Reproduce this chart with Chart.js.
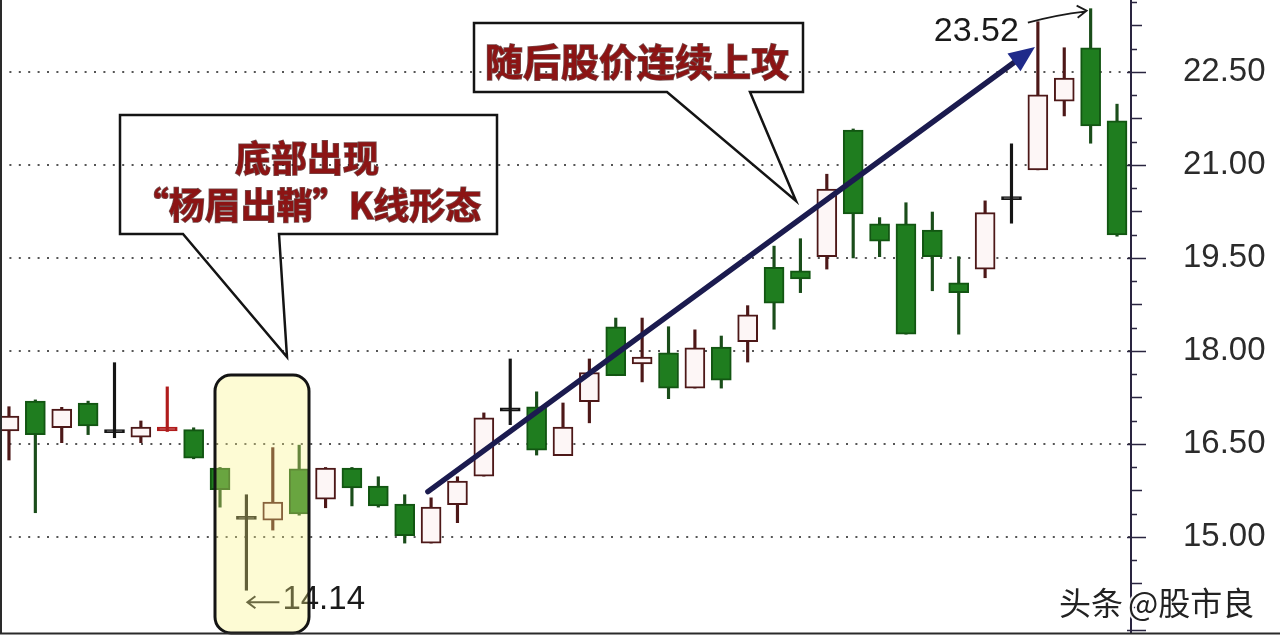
<!DOCTYPE html>
<html>
<head>
<meta charset="utf-8">
<script src="https://cdn.jsdelivr.net/npm/chart.js@4.4.1/dist/chart.umd.min.js"></script>
<style>
html, body { margin: 0; padding: 0; background: #fff; }
canvas { display: block; }
</style>
</head>
<body>
<canvas id="kline" width="1280" height="638"></canvas>
<script>
// daily candles (index 0 is the half-cut one on the left)
const openP  = [16.71, 17.19, 16.76, 17.16, 16.70, 16.61, 16.71, 16.73, 16.11, 15.30,
                15.27, 16.10, 15.61, 16.11, 15.82, 15.53, 14.90, 15.52, 15.98, 17.05,
                17.10, 16.31, 17.18, 18.39, 17.79, 17.97, 17.40, 18.06, 18.15, 19.35,
                19.29, 19.52, 21.56, 20.05, 20.05, 19.95, 19.10, 19.32, 20.46, 20.92,
                22.03, 22.89, 21.71];
const closeP = [16.95, 16.65, 17.06, 16.79, 16.71, 16.77, 16.77, 16.27, 15.76, 15.31,
                15.56, 15.37, 16.11, 15.79, 15.50, 15.02, 15.48, 15.90, 16.92, 17.06,
                16.40, 16.77, 17.65, 17.60, 17.90, 17.40, 18.05, 17.53, 18.58, 18.77,
                19.16, 20.61, 20.21, 19.77, 18.27, 19.52, 18.94, 20.23, 20.47, 22.13,
                22.40, 21.63, 19.87];
const highP  = [17.10, 17.21, 17.09, 17.19, 17.81, 16.87, 17.42, 16.76, 16.12, 15.68,
                16.44, 16.48, 16.12, 16.12, 15.97, 15.68, 15.63, 15.97, 17.00, 17.87,
                17.34, 17.16, 17.87, 18.53, 18.53, 18.39, 18.34, 18.24, 18.73, 19.69,
                19.81, 20.85, 21.58, 20.15, 20.39, 20.24, 19.52, 20.42, 21.34, 23.31,
                22.89, 23.52, 21.98];
const lowP   = [16.24, 15.39, 16.52, 16.65, 16.60, 16.52, 16.70, 16.26, 15.48, 14.14,
                15.11, 15.35, 15.47, 15.50, 15.48, 14.90, 14.90, 15.23, 15.98, 16.81,
                16.32, 16.31, 16.84, 17.60, 17.50, 17.23, 17.40, 17.40, 17.82, 18.35,
                18.94, 19.32, 19.50, 19.52, 18.27, 18.97, 18.27, 19.18, 20.06, 20.92,
                21.79, 21.35, 19.85];
const yTicks = [15.00, 16.50, 18.00, 19.50, 21.00, 22.50];
const lowMark = 9;     // candle of the 14.14 low
const highMark = 41;   // candle of the 23.52 high

function kind(i) {
    const d = closeP[i] - openP[i];
    if (Math.abs(d) <= 0.02) return 'doji';
    if (d > 0 && d < 0.08) return 'red';
    return d > 0 ? 'up' : 'down';
}

const bodies = openP.map((o, i) => {
    const c = closeP[i];
    if (kind(i) === 'doji') {
        const m = (o + c) / 2;
        return { x: i, y: [m - 0.025, m + 0.025] };
    }
    return { x: i, y: [Math.min(o, c), Math.max(o, c)] };
});
const wicks = highP.map((h, i) => ({ x: i, y: [lowP[i], h] }));

const bodyFill   = { up: '#fdf6f6', down: '#1f7d1f', doji: '#151515', red: '#b01c1c' };
const bodyBorder = { up: '#4d1818', down: '#125612', doji: '#151515', red: '#b01c1c' };
const wickColor  = { up: '#4d1818', down: '#1a4d1a', doji: '#151515', red: '#b01c1c' };

function callout(ctx, l, t, r, b, p1, p2, tx, ty) {
    ctx.beginPath();
    ctx.moveTo(p1, b);
    ctx.lineTo(l, b);
    ctx.lineTo(l, t);
    ctx.lineTo(r, t);
    ctx.lineTo(r, b);
    ctx.lineTo(p2, b);
    ctx.lineTo(tx, ty);
    ctx.closePath();
    ctx.stroke();
}

function redText(ctx, txt, cx, cy, size) {
    ctx.font = 'bold ' + size + 'px "Noto Sans CJK SC"';
    ctx.textAlign = 'center';
    ctx.textBaseline = 'middle';
    ctx.lineWidth = 1.5;
    ctx.strokeStyle = 'rgba(55,0,0,0.7)';
    ctx.strokeText(txt, cx, cy);
    ctx.fillStyle = '#8c1414';
    ctx.fillText(txt, cx, cy);
}

const notes = {
    id: 'notes',
    afterDatasetsDraw(chart) {
        const { ctx, scales: { x, y } } = chart;
        ctx.save();

        // ←14.14 under the long lower shadow
        const lx = x.getPixelForValue(lowMark), ly = y.getPixelForValue(lowP[lowMark]) + 12;
        ctx.strokeStyle = '#222';
        ctx.lineWidth = 2;
        ctx.beginPath();
        ctx.moveTo(lx + 33, ly); ctx.lineTo(lx + 1, ly);
        ctx.moveTo(lx + 9, ly - 6); ctx.lineTo(lx + 1, ly); ctx.lineTo(lx + 9, ly + 6);
        ctx.stroke();
        ctx.fillStyle = '#1a1a1a';
        ctx.font = '33px "Liberation Sans"';
        ctx.textAlign = 'left';
        ctx.textBaseline = 'middle';
        ctx.fillText(lowP[lowMark].toFixed(2), lx + 36, ly - 2);

        // yellow highlight box
        ctx.beginPath();
        ctx.roundRect(215, 375, 94, 258, 16);
        ctx.fillStyle = 'rgba(250,242,130,0.34)';
        ctx.fill();
        ctx.lineWidth = 3;
        ctx.strokeStyle = '#141414';
        ctx.stroke();

        // trend arrow
        const x0 = x.getPixelForValue(15.88), y0 = y.getPixelForValue(15.73);
        const x1 = x.getPixelForValue(38.89), y1 = y.getPixelForValue(22.90);
        const ang = Math.atan2(y1 - y0, x1 - x0);
        const hl = 26, hw = 11;
        const bx = x1 - hl * Math.cos(ang), by = y1 - hl * Math.sin(ang);
        ctx.strokeStyle = '#1b1b4f';
        ctx.lineWidth = 5.5;
        ctx.lineCap = 'round';
        ctx.beginPath();
        ctx.moveTo(x0, y0); ctx.lineTo(bx, by);
        ctx.stroke();
        ctx.fillStyle = '#1f2a8a';
        ctx.beginPath();
        ctx.moveTo(x1, y1);
        ctx.lineTo(bx + hw * Math.sin(ang), by - hw * Math.cos(ang));
        ctx.lineTo(bx - hw * Math.sin(ang), by + hw * Math.cos(ang));
        ctx.closePath();
        ctx.fill();
        ctx.lineCap = 'butt';

        // speech boxes
        ctx.strokeStyle = '#141414';
        ctx.lineWidth = 2.5;
        ctx.lineJoin = 'miter';
        callout(ctx, 120, 115, 497, 234, 183, 279, 287, 357);
        callout(ctx, 474, 23, 803, 92, 667, 750, 796, 201);
        redText(ctx, '底部出现', 307, 158, 36);
        redText(ctx, '“杨眉出鞘”K线形态', 307, 205, 36);
        redText(ctx, '随后股价连续上攻', 637, 62, 38);

        // 23.52 with bent arrow to the top shadow
        const hx = x.getPixelForValue(highMark), hy = y.getPixelForValue(highP[highMark]);
        const px = x.getPixelForValue(highMark - 2);
        ctx.fillStyle = '#1a1a1a';
        ctx.font = '34px "Liberation Sans"';
        ctx.textAlign = 'right';
        ctx.textBaseline = 'middle';
        ctx.fillText(highP[highMark].toFixed(2), px - 19, hy + 23);
        ctx.strokeStyle = '#1a1a1a';
        ctx.lineWidth = 1.8;
        ctx.beginPath();
        ctx.moveTo(px - 10, hy + 14);
        ctx.quadraticCurveTo(px + 20, hy + 6, hx - 6, hy + 3);
        ctx.moveTo(hx - 14, hy - 3); ctx.lineTo(hx - 4, hy + 2); ctx.lineTo(hx - 13, hy + 9);
        ctx.stroke();

        ctx.restore();
    },
    afterDraw(chart) {
        const { ctx, chartArea: a, scales: { y } } = chart;
        ctx.save();
        // frame: left edge and bottom rule
        ctx.strokeStyle = '#2a2a2a';
        ctx.lineWidth = 2;
        ctx.beginPath();
        ctx.moveTo(1, 0); ctx.lineTo(1, a.bottom);
        ctx.moveTo(0, a.bottom + 0.5); ctx.lineTo(1280, a.bottom + 0.5);
        ctx.stroke();
        // price axis tick marks
        ctx.strokeStyle = '#2a2540';
        ctx.lineWidth = 1.6;
        ctx.beginPath();
        for (let k = -4; k <= 24; k++) {
            const v = 15 + k * 0.375;
            if (v < y.min || v > y.max) continue;
            const len = k % 4 === 0 ? 15 : (k % 2 === 0 ? 11 : 6);
            const py = Math.round(y.getPixelForValue(v)) + 0.5;
            ctx.moveTo(a.right - (k % 4 === 0 ? 4 : 0), py); ctx.lineTo(a.right + len, py);
        }
        ctx.stroke();
        // watermark
        ctx.font = '32px "Noto Sans CJK SC"';
        ctx.textAlign = 'left';
        ctx.textBaseline = 'middle';
        ctx.lineWidth = 4;
        ctx.strokeStyle = 'rgba(255,255,255,0.9)';
        ctx.strokeText('头条', 1059, 603);
        ctx.strokeText('@股市良', 1128, 603);
        ctx.fillStyle = '#222';
        ctx.fillText('头条', 1059, 603);
        ctx.fillText('@股市良', 1128, 603);
        ctx.restore();
    }
};

new Chart(document.getElementById('kline').getContext('2d'), {
    type: 'bar',
    data: {
        datasets: [
            {
                label: 'body',
                data: bodies,
                barThickness: 20,
                grouped: false,
                borderSkipped: false,
                borderWidth: 2,
                backgroundColor: openP.map((o, i) => bodyFill[kind(i)]),
                borderColor: openP.map((o, i) => bodyBorder[kind(i)])
            },
            {
                label: 'shadow',
                data: wicks,
                barThickness: 2.5,
                grouped: false,
                borderWidth: 0,
                backgroundColor: openP.map((o, i) => wickColor[kind(i)])
            }
        ]
    },
    options: {
        responsive: false,
        animation: false,
        devicePixelRatio: 1,
        layout: { padding: { left: 0, right: 0, top: 0, bottom: 5 } },
        plugins: { legend: { display: false }, tooltip: { enabled: false } },
        scales: {
            x: {
                type: 'linear',
                min: -0.34,
                max: 42.53,
                offset: false,
                display: false
            },
            y: {
                position: 'right',
                min: 13.45,
                max: 23.66,
                afterBuildTicks: s => { s.ticks = yTicks.map(v => ({ value: v })); },
                afterFit: s => { s.width = 149; s.paddingTop = 0; s.paddingBottom = 0; },
                grid: { color: '#555', lineWidth: 2, drawTicks: false },
                border: { display: true, color: '#2a2540', width: 2, dash: [2, 7.4] },
                ticks: {
                    padding: 52,
                    color: '#2b2b2b',
                    font: { family: 'Liberation Sans', size: 33 },
                    callback: v => Number(v).toFixed(2)
                }
            }
        }
    },
    plugins: [notes]
});
</script>
</body>
</html>
